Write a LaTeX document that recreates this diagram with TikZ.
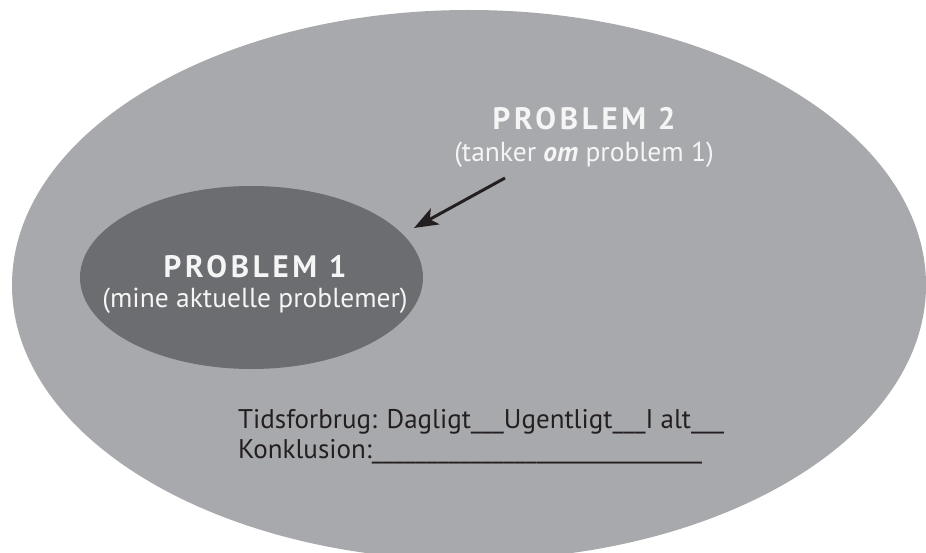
\documentclass[tikz,border=0pt]{standalone}
\usepackage{fontspec}
\setmainfont{PT Sans}
\newfontfamily\headfont[LetterSpace=12.0]{PT Sans}
\usetikzlibrary{shapes.geometric,arrows.meta}
\definecolor{outergray}{HTML}{A8A9AC}
\definecolor{innergray}{HTML}{6C6D70}
\definecolor{labelwhite}{HTML}{F5F5F5}
\definecolor{inkdark}{HTML}{231F20}

\begin{document}
\begin{tikzpicture}[x=1pt,y=-1pt,
	blob/.style={ellipse,inner sep=0pt,outer sep=0pt},
	headtext/.style={anchor=base,inner sep=0pt,text=labelwhite,font=\headfont\bfseries\fontsize{31}{34}\selectfont},
	subtext/.style={anchor=base,inner sep=0pt,text=labelwhite,font=\fontsize{27.5}{32}\selectfont},
	bodytext/.style={anchor=base west,inner sep=0pt,text=inkdark,font=\fontsize{27}{32}\selectfont}]
	
	\clip (0,0) rectangle (926,553);
	\fill[white] (0,0) rectangle (926,553);
	
	\node[blob,fill=outergray,minimum width=914pt,minimum height=550pt] (outer) at (469,285) {};
	\node[blob,fill=innergray,minimum width=343pt,minimum height=183pt] (inner) at (251.5,277.5) {};
	
	% problem 1
	\node[headtext] (p1title) at (255,277) {PROBLEM 1};
	\node[subtext] (p1sub) at (255,307) {(mine aktuelle problemer)};
	
	% problem 2
	\node[headtext] (p2title) at (584,130) {PROBLEM 2};
	\node[subtext] (p2sub) at (584,162) {(tanker \textbf{\textit{om}} problem 1)};
	
	\coordinate (arrowstart) at (505,178);
	\coordinate (arrowtip) at (414,228);
	\draw[inkdark,line width=3pt,-{Stealth[length=24pt,width=18pt,inset=6pt]}] (arrowstart) -- (arrowtip);
	
	% time use
	\node[bodytext] (timeline) at (238,428) {Tidsforbrug: Dagligt\_\_\_Ugentligt\_\_\_I alt\_\_\_};
	\node[bodytext] (conclusion) at (238,458) {Konklusion:\_\_\_\_\_\_\_\_\_\_\_\_\_\_\_\_\_\_\_\_\_\_\_\_\_\_\_\_\_\_};
	
\end{tikzpicture}
\end{document}
